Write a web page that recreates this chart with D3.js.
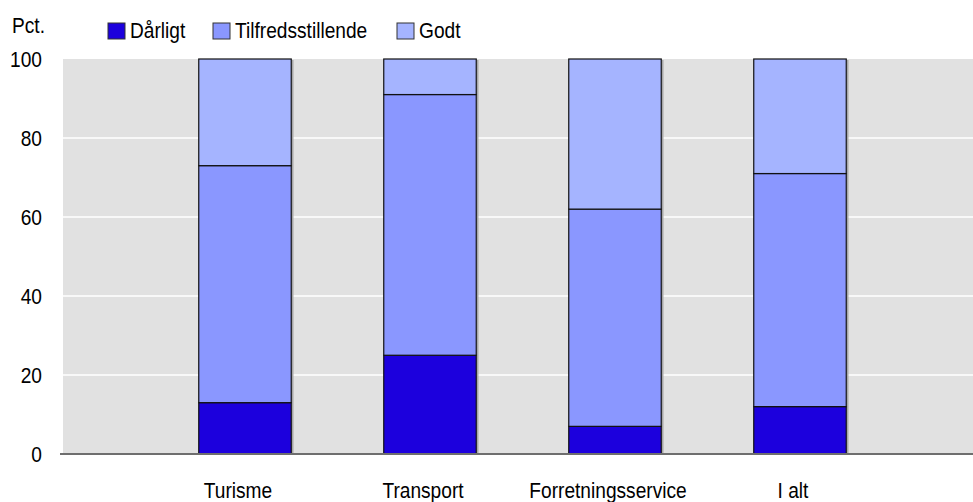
<!DOCTYPE html>
<meta charset="utf-8">
<script src="https://d3js.org/d3.v7.min.js"></script>
<style>
  body { margin: 0; background: #fff; }
  text { font-family: "Liberation Sans", Arial, sans-serif; fill: #000; font-size: 22px; }
</style>
<svg id="chart" width="973" height="502"></svg>
<script>

// data
const categories = ["Turisme", "Transport", "Forretningsservice", "I alt"]
const series = ["Dårligt", "Tilfredsstillende", "Godt"]
const darligt = [13, 25, 7, 12]
const tilfreds = [60, 66, 55, 59]
const godt = [27, 9, 38, 29]
const yTicks = [0, 20, 40, 60, 80, 100]

const colors = ["#1c00dd", "#8a97ff", "#a5b4ff"]

const svg = d3.select("#chart"),
    width = +svg.attr("width"),
    height = +svg.attr("height");

const plotLeft = 63, plotRight = 973, plotTop = 59, plotBottom = 454
const narrow = 0.87   // the original font is a condensed face

const rows = categories.map((c, i) => ({
  cat: c, "Dårligt": darligt[i], "Tilfredsstillende": tilfreds[i], "Godt": godt[i]
}))
const stacked = d3.stack().keys(series)(rows)

const x = d3.scaleBand()
  .domain(categories)
  .range([152.5, 892.5])
  .paddingInner(0.5)
  .paddingOuter(0.25)

const y = d3.scaleLinear()
  .domain([0, 100])
  .range([plotBottom, plotTop])

// background
svg.append("rect")
  .attr("x", plotLeft).attr("y", plotTop)
  .attr("width", plotRight - plotLeft).attr("height", plotBottom - plotTop)
  .attr("fill", "#e1e1e1")

// gridlines
svg.append("g")
  .selectAll("line")
  .data(yTicks.filter(d => d > 0 && d < 100))
  .join("line")
    .attr("x1", plotLeft).attr("x2", plotRight)
    .attr("y1", d => y(d)).attr("y2", d => y(d))
    .attr("stroke", "#fff")
    .attr("stroke-width", 1.5)

// bar shadows
svg.append("g")
  .selectAll("line")
  .data(categories)
  .join("line")
    .attr("x1", d => x(d) + x.bandwidth() + 1.5)
    .attr("x2", d => x(d) + x.bandwidth() + 1.5)
    .attr("y1", y(100) + 1)
    .attr("y2", y(0))
    .attr("stroke", "#a8a8a8")
    .attr("stroke-width", 1.5)

// bars
svg.append("g")
  .selectAll("g")
  .data(stacked)
  .join("g")
    .attr("fill", (d, i) => colors[i])
  .selectAll("rect")
  .data(d => d)
  .join("rect")
    .attr("x", d => x(d.data.cat))
    .attr("y", d => y(d[1]))
    .attr("width", x.bandwidth())
    .attr("height", d => y(d[0]) - y(d[1]))
    .attr("stroke", "#111")
    .attr("stroke-width", 1.2)

// baseline
svg.append("line")
  .attr("x1", 60).attr("x2", plotRight)
  .attr("y1", y(0)).attr("y2", y(0))
  .attr("stroke", "#6e6e6e")
  .attr("stroke-width", 2)

// y labels
svg.append("g")
  .selectAll("text")
  .data(yTicks)
  .join("text")
    .attr("transform", d => `translate(42,${y(d) + 7.5}) scale(${narrow},1)`)
    .attr("text-anchor", "end")
    .text(d => d)

svg.append("text")
  .attr("transform", `translate(12,33) scale(${narrow},1)`)
  .text("Pct.")

// x labels
svg.append("g")
  .selectAll("text")
  .data(categories)
  .join("text")
    .attr("transform", d => `translate(${x(d) + x.bandwidth() / 2 - 7},498) scale(${narrow},1)`)
    .attr("text-anchor", "middle")
    .text(d => d)

// legend
const legendX = [108, 213, 397]
const legend = svg.append("g")
  .selectAll("g")
  .data(series)
  .join("g")
    .attr("transform", (d, i) => `translate(${legendX[i]},23)`)
legend.append("rect")
  .attr("width", 17).attr("height", 16)
  .attr("fill", (d, i) => colors[i])
  .attr("stroke", "#333")
  .attr("stroke-width", 1)
legend.append("text")
  .attr("transform", `translate(22,15) scale(${narrow},1)`)
  .text(d => d)

</script>
